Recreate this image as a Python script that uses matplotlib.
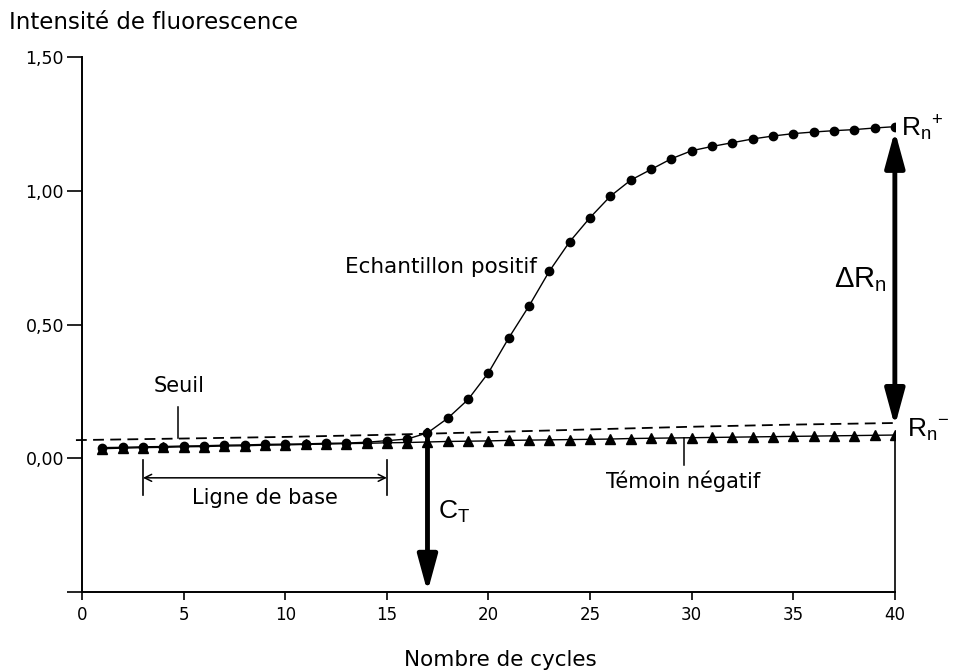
import numpy as np
import matplotlib
matplotlib.use("Agg")
import matplotlib.pyplot as plt

plt.rcParams['font.family'] = ['DejaVu Sans']
plt.rcParams['mathtext.fontset'] = 'custom'
plt.rcParams['mathtext.rm'] = 'Liberation Sans'

# Data
cycles = list(range(1, 41))
positif = [0.040, 0.041, 0.043, 0.044, 0.046, 0.047, 0.049, 0.050, 0.052, 0.053,
           0.054, 0.056, 0.057, 0.060, 0.066, 0.072, 0.095, 0.150, 0.220, 0.320,
           0.450, 0.570, 0.700, 0.810, 0.900, 0.980, 1.040, 1.080, 1.120, 1.150,
           1.166, 1.180, 1.194, 1.205, 1.214, 1.220, 1.225, 1.229, 1.235, 1.240]
negatif = [0.036, 0.038, 0.040, 0.041, 0.043, 0.044, 0.046, 0.047, 0.049, 0.050,
           0.052, 0.053, 0.055, 0.056, 0.058, 0.059, 0.061, 0.063, 0.064, 0.065,
           0.067, 0.068, 0.069, 0.070, 0.071, 0.072, 0.074, 0.075, 0.076, 0.077,
           0.078, 0.079, 0.080, 0.081, 0.082, 0.083, 0.084, 0.085, 0.086, 0.087]
seuil_x = [-0.3, 5, 10, 15, 20, 25, 30, 35, 40]
seuil_y = [0.068, 0.074, 0.080, 0.088, 0.098, 0.108, 0.118, 0.126, 0.132]

ct = 17
baseline = (3, 15)

xticks = [0, 5, 10, 15, 20, 25, 30, 35, 40]
yticks = [1.5, 1.0, 0.5, 0.0, -0.5]
ytick_labels = ['1,50', '1,00', '0,50', '0,00', '']

fig = plt.figure(figsize=(9.54, 6.72), dpi=100)
ax = fig.add_axes([0.086, 0.119, 0.852, 0.796])

ax.plot(seuil_x, seuil_y, color='black', lw=1.3, linestyle=(0, (6, 3.5)), clip_on=False)
ax.plot(cycles, negatif, color='black', lw=1, marker='^', markersize=6.5)
ax.plot(cycles, positif, color='black', lw=1, marker='o', markersize=6)

ax.set_xlim(0, 40)
ax.set_ylim(-0.5, 1.5)
ax.spines['top'].set_visible(False)
ax.spines['right'].set_visible(False)
ax.spines['left'].set_linewidth(1.4)
ax.spines['bottom'].set_linewidth(1.4)

ax.set_xticks(xticks)
ax.set_xticklabels([str(t) for t in xticks], family=['Liberation Sans Narrow', 'DejaVu Sans'], fontsize=12)
ax.set_yticks(yticks)
ax.set_yticklabels(ytick_labels, fontsize=12.5)
ax.tick_params(axis='x', direction='out', length=6, width=1.2, pad=4)
ax.tick_params(axis='y', direction='out', length=11, width=1.2, pad=2)

# vertical line at cycle 40 below Rn-
ax.plot([40, 40], [-0.5, negatif[-1]], color='black', lw=1.2, clip_on=False)

# CT arrow
ax.annotate('', xy=(ct, -0.5), xytext=(ct, 0.105),
            arrowprops=dict(arrowstyle='-|>,head_length=2.2,head_width=0.6', lw=3.5,
                            color='black', shrinkA=0, shrinkB=0, mutation_scale=10))
ax.text(ct + 0.5, -0.2, r'$\mathrm{C_T}$', fontsize=19, ha='left', va='center')

# Delta Rn arrow
ax.annotate('', xy=(40, 1.225), xytext=(40, 0.12),
            arrowprops=dict(arrowstyle='<|-|>,head_length=2.2,head_width=0.6', lw=3.5,
                            color='black', shrinkA=0, shrinkB=0, mutation_scale=10))
ax.text(39.6, 0.67, r'$\mathrm{\Delta R_n}$', fontsize=21, ha='right', va='center')
ax.text(40.3, 1.235, r'$\mathrm{R_n}^{+}$', fontsize=19, ha='left', va='center', clip_on=False)
ax.text(40.6, 0.105, r'$\mathrm{R_n}^{-}$', fontsize=19, ha='left', va='center', clip_on=False)

# baseline bracket
ax.plot([baseline[0], baseline[0]], [-0.006, -0.137], color='black', lw=1.2)
ax.plot([baseline[1], baseline[1]], [-0.006, -0.137], color='black', lw=1.2)
ax.annotate('', xy=(baseline[0], -0.073), xytext=(baseline[1], -0.073),
            arrowprops=dict(arrowstyle='<->,head_length=0.5,head_width=0.25', lw=1.1,
                            color='black', shrinkA=0, shrinkB=0, mutation_scale=10))
ax.text(9, -0.15, 'Ligne de base', fontsize=15, ha='center', va='center')

# Seuil label
ax.plot([4.7, 4.7], [0.19, 0.075], color='black', lw=1.1)
ax.text(4.8, 0.27, 'Seuil', fontsize=15, ha='center', va='center')

# Temoin negatif label
ax.plot([29.6, 29.6], [0.076, -0.025], color='black', lw=1.1)
ax.text(29.6, -0.085, 'Témoin négatif', fontsize=15, ha='center', va='center')

ax.text(22.4, 0.715, 'Echantillon positif', fontsize=15.5, ha='right', va='center')

fig.text(0.009, 0.966, 'Intensité de fluorescence', fontsize=16.5, ha='left', va='center')
fig.text(0.525, 0.018, 'Nombre de cycles', fontsize=15.5, ha='center', va='center')

fig.savefig('out.png', dpi=100)
